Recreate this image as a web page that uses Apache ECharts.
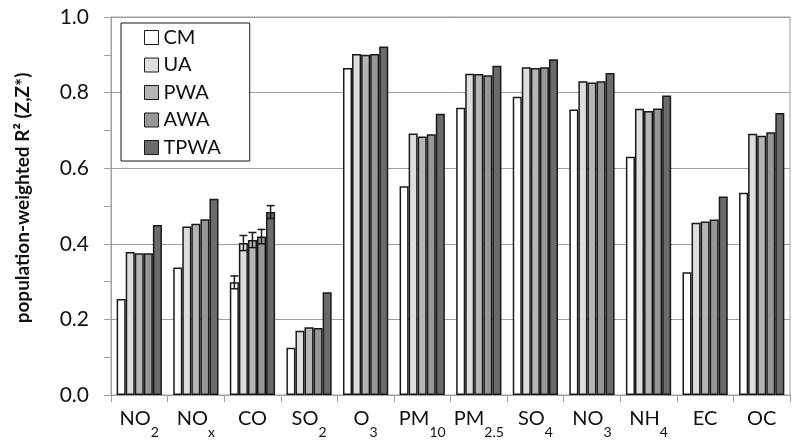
<!DOCTYPE html>
<html>
<head>
<meta charset="utf-8">
<script src="https://cdn.jsdelivr.net/npm/echarts@6/dist/echarts.min.js"></script>
<style>html,body{margin:0;padding:0;background:#fff}#c{width:800px;height:444px}</style>
</head>
<body>
<div id="c"></div>
<script>
var categories = ['NO2','NOx','CO','SO2','O3','PM10','PM2.5','SO4','NO3','NH4','EC','OC'];
var labelMain = ['NO','NO','CO','SO','O','PM','PM','SO','NO','NH','EC','OC'];
var labelSub  = ['2','x','','2','3','10','2.5','4','3','4','',''];
var seriesNames = ['CM','UA','PWA','AWA','TPWA'];
var CM   = [0.254,0.337,0.298,0.125,0.865,0.552,0.760,0.789,0.755,0.630,0.325,0.535];
var UA   = [0.378,0.446,0.402,0.170,0.902,0.692,0.850,0.867,0.830,0.757,0.456,0.691];
var PWA  = [0.375,0.453,0.410,0.179,0.900,0.684,0.849,0.865,0.827,0.751,0.459,0.686];
var AWA  = [0.375,0.465,0.419,0.177,0.902,0.690,0.846,0.867,0.830,0.758,0.464,0.695];
var TPWA = [0.450,0.519,0.484,0.272,0.922,0.744,0.871,0.888,0.852,0.792,0.525,0.746];
var errCategory = 'CO';
var coErr = [0.017,0.020,0.020,0.019,0.017];

var values = [CM, UA, PWA, AWA, TPWA];
var colors = ['#ffffff','#dedede','#b5b5b5','#979797','#6b6b6b'];
var FONT = 'Lato';
var catGap = 0.2;

var chart = echarts.init(document.getElementById('c'), null, {renderer:'canvas'});
var series = [];
seriesNames.forEach(function(n,i){
  series.push({
    name:n, type:'bar', data: values[i], barGap:'0%', barCategoryGap: (catGap*100)+'%',
    itemStyle:{color:colors[i], borderColor:'#1a1a1a', borderWidth:1.5},
    z:2
  });
});
var ci = categories.indexOf(errCategory);
seriesNames.forEach(function(n,i){
  series.push({
    type:'custom', z:5, silent:true,
    data: [[ci, values[i][ci], coErr[i]]],
    renderItem: function(params, api){
      var c = api.value(0), v = api.value(1), e = api.value(2);
      var cw = api.size([1,0])[0];
      var bw = cw*(1-catGap)/5;
      var p = api.coord([c, v]);
      var x = p[0] + (i-2)*bw;
      var top = api.coord([c, v+e])[1];
      var bot = api.coord([c, v-e])[1];
      var hw = bw/2 - 0.5;
      var st = {stroke:'#1a1a1a', lineWidth:1.5};
      return {type:'group', children:[
        {type:'line', shape:{x1:x,y1:top,x2:x,y2:bot}, style:st},
        {type:'line', shape:{x1:x-hw,y1:top,x2:x+hw,y2:top}, style:st},
        {type:'line', shape:{x1:x-hw,y1:bot,x2:x+hw,y2:bot}, style:st}
      ]};
    }
  });
});

chart.setOption({
  animation:false,
  backgroundColor:'#fff',
  grid:{left:111, right:10, top:17, bottom:49, show:true, borderColor:'#a0a0a0', borderWidth:1},
  legend:{
    orient:'vertical', left:121, top:23,
    data: seriesNames.map(function(n,i){return {name:n, icon:'rect', itemStyle:{color:colors[i], borderColor:'#1a1a1a', borderWidth:1}};}),
    itemWidth:14, itemHeight:14, itemGap:7.5,
    padding:[4.5,29,3.5,23],
    backgroundColor:'#fff', borderColor:'#1a1a1a', borderWidth:1, borderRadius:0,
    textStyle:{fontFamily:FONT, fontSize:20, lineHeight:20, color:'#111'}
  },
  xAxis:{
    type:'category', data:categories,
    axisLine:{lineStyle:{color:'#a0a0a0', width:1}},
    axisTick:{show:true, length:7, lineStyle:{color:'#a0a0a0'}},
    axisLabel:{
      margin:19, interval:0,
      formatter:function(v, idx){
        var s = '{m|' + labelMain[idx] + '}';
        s += labelSub[idx] ? '{s|' + labelSub[idx] + '}' : '{e|}';
        return s;
      },
      rich:{
        m:{fontFamily:FONT, fontSize:20, lineHeight:20, color:'#111', padding:[0,0,11,0]},
        s:{fontFamily:FONT, fontSize:14, lineHeight:14, color:'#111', padding:[17,0,0,0]},
        e:{fontSize:14, lineHeight:14, padding:[17,0,0,0]}
      }
    }
  },
  yAxis:{
    type:'value', min:0, max:1, interval:0.2,
    name:'population-weighted R² (Z,Z*)', nameLocation:'middle', nameGap:79,
    nameTextStyle:{fontFamily:FONT, fontSize:19, fontWeight:'bold', color:'#111', padding:[0,0,0,16]},
    axisLine:{show:true, lineStyle:{color:'#a0a0a0', width:1}},
    axisTick:{show:true, length:7, lineStyle:{color:'#a0a0a0'}},
    minorTick:{show:true, splitNumber:2, length:7, lineStyle:{color:'#a0a0a0'}},
    splitLine:{lineStyle:{color:'#a0a0a0', width:1}},
    axisLabel:{margin:22, fontFamily:FONT, fontSize:21, color:'#111', formatter:function(v){return v.toFixed(1);}}
  },
  series: series
});
</script>
</body>
</html>
